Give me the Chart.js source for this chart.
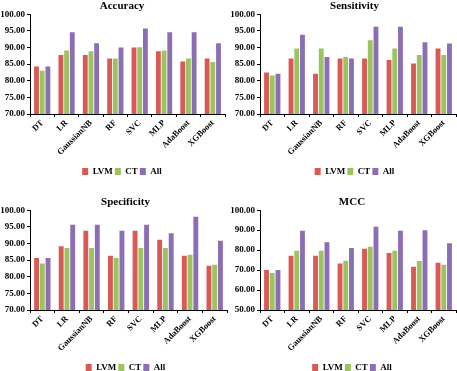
<!DOCTYPE html>
<html lang="en">
<head>
<meta charset="UTF-8">
<title>Classifier metrics</title>
<script src="https://cdn.jsdelivr.net/npm/chart.js"></script>
<style>
  html, body { margin: 0; padding: 0; background: #fff; width: 457px; height: 371px; overflow: hidden; }
  .panel { position: absolute; }
</style>
</head>
<body>
<div class="panel" style="left:0;top:0;width:244px;height:186px"><canvas id="acc"></canvas></div>
<div class="panel" style="left:228px;top:0;width:253px;height:186px"><canvas id="sen"></canvas></div>
<div class="panel" style="left:0;top:196px;width:251px;height:186px"><canvas id="spe"></canvas></div>
<div class="panel" style="left:228px;top:196px;width:248px;height:186px"><canvas id="mcc"></canvas></div>
<script>
const models = ["DT", "LR", "GaussianNB", "RF", "SVC", "MLP", "AdaBoost", "XGBoost"];
const seriesNames = ["LVM", "CT", "All"];

const accLVM = [84.3, 87.7, 87.7, 86.7, 90.0, 88.9, 85.8, 86.7];
const accCT  = [83.0, 89.1, 88.9, 86.7, 90.1, 89.1, 86.7, 85.6];
const accAll = [84.3, 94.6, 91.3, 90.0, 95.7, 94.6, 94.6, 91.3];

const senLVM = [82.5, 86.7, 82.1, 86.7, 86.7, 86.2, 85.2, 89.7];
const senCT  = [81.6, 89.7, 89.7, 87.1, 92.2, 89.7, 87.7, 87.7];
const senAll = [82.1, 93.8, 87.1, 86.7, 96.2, 96.2, 91.6, 91.2];

const speLVM = [85.6, 89.2, 93.8, 86.3, 93.8, 91.1, 86.3, 83.3];
const speCT  = [84.0, 88.6, 88.6, 85.6, 88.6, 88.6, 86.6, 83.6];
const speAll = [85.6, 95.6, 95.6, 93.8, 95.6, 93.1, 98.0, 90.8];

const mccLVM = [70.0, 77.2, 77.2, 73.3, 80.7, 78.5, 71.7, 73.7];
const mccCT  = [68.5, 79.7, 79.7, 74.7, 81.7, 79.7, 74.5, 72.7];
const mccAll = [70.0, 89.7, 84.0, 81.0, 91.7, 89.7, 90.0, 83.5];

const colors = ["#d95a55", "#9dc35f", "#8b6eb4"];
const serif = "'Liberation Serif', 'DejaVu Serif', serif";

// spacer = width of an empty right-hand axis, used to shift the title/legend centre
function makeChart(id, title, values, yMin, yMax, step, axisW, spacer) {
  new Chart(document.getElementById(id), {
    type: "bar",
    data: {
      labels: models,
      datasets: values.map((v, i) => ({
        label: seriesNames[i],
        data: v,
        backgroundColor: colors[i],
        borderWidth: 0,
        categoryPercentage: 0.7,
        barPercentage: 0.85
      }))
    },
    options: {
      responsive: true,
      maintainAspectRatio: false,
      animation: false,
      layout: { padding: 0 },
      plugins: {
        title: {
          display: true,
          text: title,
          color: "#000",
          font: { family: serif, size: 11, weight: "bold" },
          padding: { top: 0, bottom: 1 }
        },
        legend: {
          position: "bottom",
          labels: {
            color: "#000",
            boxWidth: 6,
            boxHeight: 7,
            padding: 2,
            font: { family: serif, size: 9, weight: "bold" }
          }
        },
        tooltip: { enabled: false }
      },
      scales: {
        x: {
          grid: { drawOnChartArea: false, tickLength: 3, color: "#000" },
          border: { display: true, color: "#000" },
          ticks: {
            color: "#000",
            autoSkip: false,
            minRotation: 45,
            maxRotation: 45,
            padding: 1,
            font: { family: serif, size: 8.5, weight: "bold" }
          },
          afterFit: s => { s.height = 51; }
        },
        y: {
          min: yMin,
          max: yMax,
          grid: { drawOnChartArea: false, tickLength: 3, color: "#000" },
          border: { display: true, color: "#000" },
          ticks: {
            stepSize: step,
            color: "#000",
            padding: 2,
            font: { family: serif, size: 9, weight: "bold" },
            callback: v => v.toFixed(2)
          },
          afterFit: s => { s.width = axisW; }
        },
        pad: {
          type: "linear",
          position: "right",
          grid: { display: false },
          border: { display: false },
          ticks: { display: false },
          afterFit: s => { s.width = spacer; }
        }
      }
    }
  });
}

makeChart("acc", "Accuracy", [accLVM, accCT, accAll], 70, 100, 5, 30, 19);
makeChart("sen", "Sensitivity", [senLVM, senCT, senAll], 70, 100, 5, 32, 25);
makeChart("spe", "Specificity", [speLVM, speCT, speAll], 70, 100, 5, 30, 24);
makeChart("mcc", "MCC", [mccLVM, mccCT, mccAll], 50, 100, 10, 32, 20);
</script>
</body>
</html>
